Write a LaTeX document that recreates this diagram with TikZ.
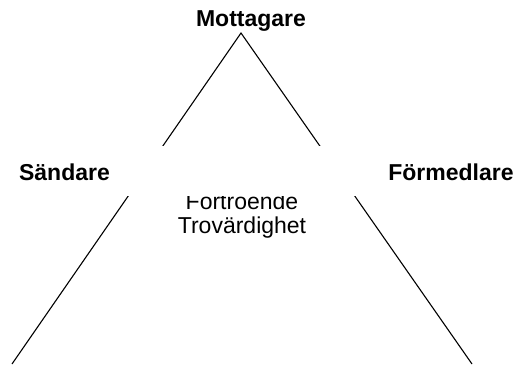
\documentclass[tikz,border=0pt]{standalone}
\usepackage{fontspec}
\setmainfont{Liberation Sans}

\begin{document}
\begin{tikzpicture}[x=1pt,y=-1pt]
\tikzstyle{every node}+=[inner sep=0pt]
\tikzstyle{role}=[font=\fontsize{23}{24}\selectfont\bfseries,anchor=base]
\tikzstyle{plain}=[font=\fontsize{23}{24}\selectfont,anchor=base]
\useasboundingbox (0,0) rectangle (519,364);
\coordinate (top) at (241,33);
\coordinate (left) at (12,364);
\coordinate (right) at (472,364);
\draw [black,line width=1.1pt] (left) -- (top) -- (right);
\node [plain] (tillit) at (242,209) {Förtroende};
\node [plain] (trov) at (242,233) {Trovärdighet};
\node [fill=white,minimum width=244pt,minimum height=50pt] (mask) at (240,171) {};
\node [role] (mott) at (251,27) {Mottagare};
\node [role] (sand) at (64.5,180) {Sändare};
\node [role] (form) at (451,180) {Förmedlare};
\end{tikzpicture}
\end{document}
